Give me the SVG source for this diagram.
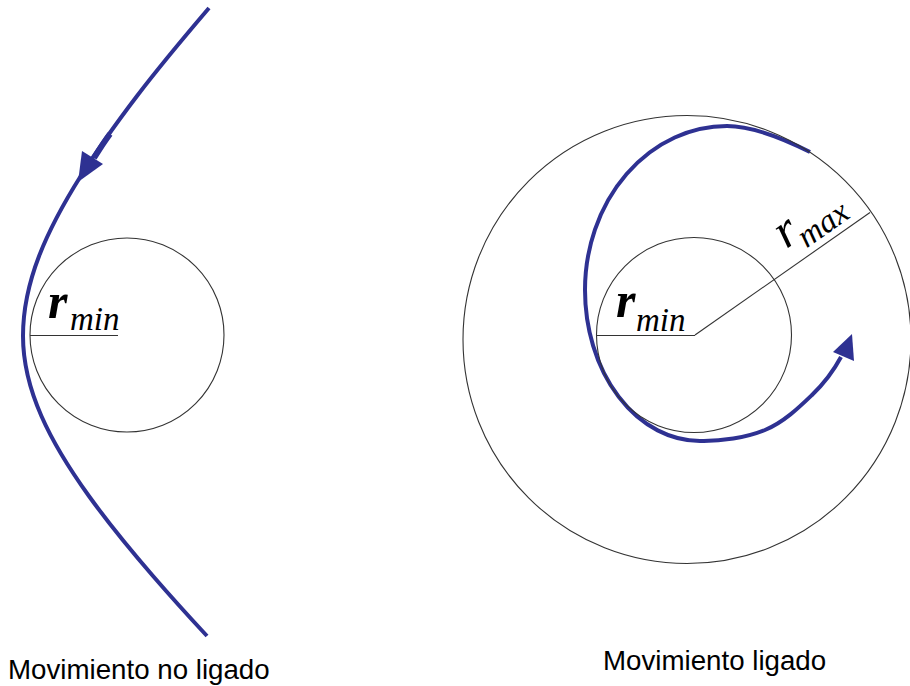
<svg xmlns="http://www.w3.org/2000/svg" width="910" height="686" viewBox="0 0 910 686">
  <style>
    .thin { fill: none; stroke: #333333; stroke-width: 1.1; }
    .orbit { fill: none; stroke: #2e3192; stroke-width: 4; stroke-linecap: butt; }
    .head { fill: #2e3192; stroke: none; }
    .rb { font-family: "Liberation Serif", "Times New Roman", serif; font-style: italic; font-weight: bold; font-size: 50px; fill: #000; }
    .ri { font-family: "Liberation Serif", "Times New Roman", serif; font-style: italic; font-size: 50px; fill: #000; }
    .sub { font-family: "Liberation Serif", "Times New Roman", serif; font-style: italic; font-size: 33px; fill: #000; }
    .cap { font-family: "Liberation Sans", Arial, sans-serif; font-size: 27.7px; fill: #000; }
  </style>
  <rect x="0" y="0" width="910" height="686" fill="#ffffff"/>

  <!-- Left: unbound motion -->
  <g id="left-circle">
    <circle class="thin" cx="127" cy="335" r="97"/>
    <line class="thin" x1="30" y1="335.5" x2="118" y2="335.5"/>
    <text class="rb" x="48" y="318">r</text>
    <text class="sub" x="70" y="330">min</text>
  </g>

  <g id="connectors">
    <path id="hyperbola" class="orbit" d="M209,8 C184,37.3 159.3,66.7 137,96 C116.7,122.7 97.6,149.3 80.8,176 C64,202.7 49.4,229.3 39.1,256 C28.8,282.7 23,309.3 23,336 C23,362.7 29.7,389.3 41.4,416 C53.1,442.7 69.7,469.3 88.9,496 C108.1,522.7 129.9,549.3 153,576 C170.3,596 188.4,616 207,636"/>
    <path class="orbit" style="stroke-width:6" d="M110,134 C104,142 99,150 94,158"/>
    <polygon class="head" points="78,182 82,151 103,164"/>

    <path id="spiral" class="orbit" d="M810,152 C782,138 752,126 727,126 A142,164 0 0 0 585,290 A115,151 0 0 0 700,441 C720.8,441.5 746.3,437.7 765,430 C783.7,422.3 799.3,407.2 812,395 C824.7,382.8 834,370 841,357"/>
    <polygon class="head" points="852,334 833,352 854,361"/>
  </g>

  <!-- Right: bound motion -->
  <g id="outer-circle">
    <circle class="thin" cx="687" cy="339.5" r="224"/>
    <line class="thin" x1="695" y1="335" x2="870" y2="212.5"/>
    <g transform="translate(695,335) rotate(-35)">
      <text class="ri" x="124" y="-18">r</text>
      <text class="sub" x="141" y="-7">max</text>
    </g>
  </g>

  <g id="inner-circle">
    <circle class="thin" cx="694" cy="335" r="97.5"/>
    <line class="thin" x1="597" y1="335.5" x2="695" y2="335.5"/>
    <text class="rb" x="616" y="317">r</text>
    <text class="sub" x="636" y="331">min</text>
  </g>

  <g id="labels">
    <text class="cap" x="8" y="679">Movimiento no ligado</text>
    <text class="cap" x="603" y="670">Movimiento ligado</text>
  </g>
</svg>
